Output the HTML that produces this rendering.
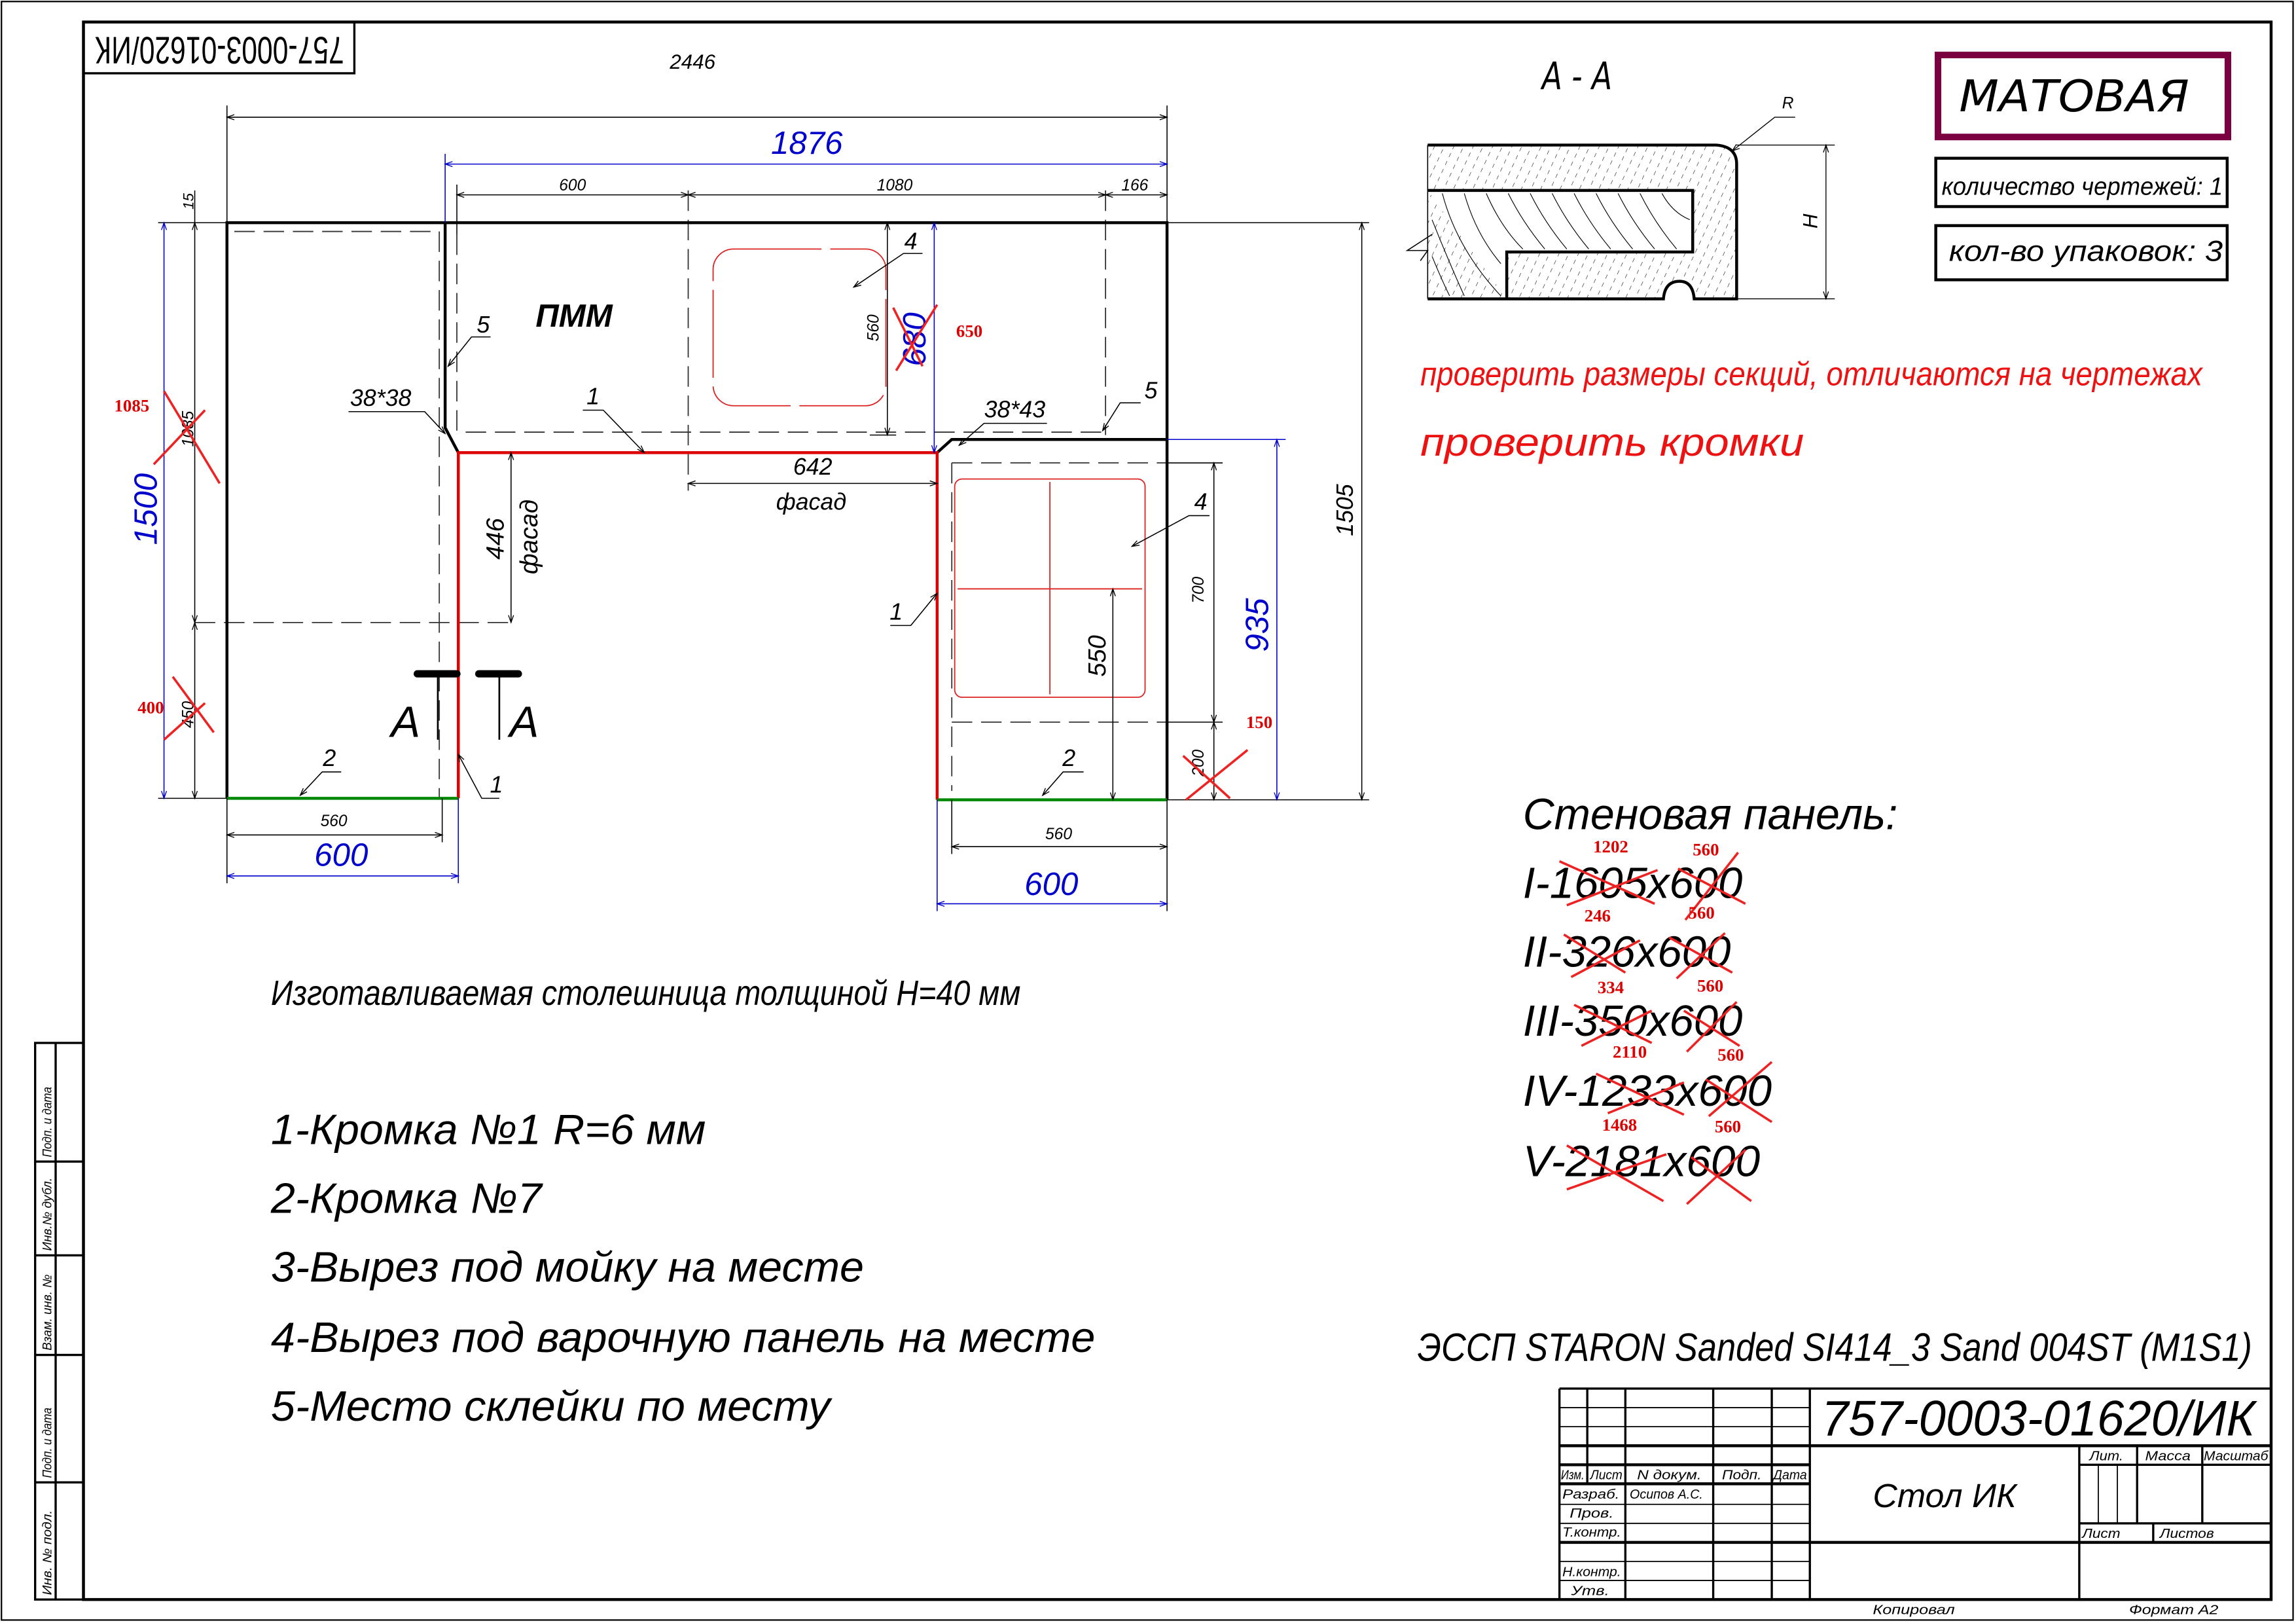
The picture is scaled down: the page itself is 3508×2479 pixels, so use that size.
<!DOCTYPE html>
<html><head><meta charset="utf-8"><style>
html,body{margin:0;padding:0;background:#fff;}
svg{display:block;}
text{font-family:"Liberation Sans","Noto Sans CJK SC",sans-serif;font-style:italic;}
text.s{font-family:"Liberation Serif",serif;font-style:normal;font-weight:bold;}
</style></head><body>
<svg width="3508" height="2479" viewBox="0 0 1568 1108" xmlns="http://www.w3.org/2000/svg">
<defs>
<marker id="a" viewBox="0 0 10 10" refX="10" refY="5" markerWidth="7" markerHeight="5" orient="auto-start-reverse" markerUnits="userSpaceOnUse"><path d="M0,1.5 L10,5 L0,8.5" fill="none" stroke="#000" stroke-width="1.2"/></marker>
<marker id="b" viewBox="0 0 10 10" refX="10" refY="5" markerWidth="7" markerHeight="5" orient="auto-start-reverse" markerUnits="userSpaceOnUse"><path d="M0,1.5 L10,5 L0,8.5" fill="none" stroke="#00c" stroke-width="1.2"/></marker>
<pattern id="h" width="6" height="6" patternUnits="userSpaceOnUse" patternTransform="rotate(25)"><line x1="0" y1="0" x2="0" y2="3" stroke="#000" stroke-width="0.5"/></pattern>
</defs>
<rect width="1568" height="1108" fill="#fff"/>
<rect x="1" y="1" width="1565" height="1105" fill="none" stroke="#000" stroke-width="1"/>
<rect x="57" y="15" width="1494" height="1077" fill="none" stroke="#000" stroke-width="2"/>
<rect x="57" y="15" width="185" height="35" fill="none" stroke="#000" stroke-width="1.5"/>
<text transform="translate(150,32) rotate(180)" x="0" y="0" text-anchor="middle" dominant-baseline="middle" font-size="26" textLength="170" lengthAdjust="spacingAndGlyphs" style="font-style:normal">757-0003-01620/ИК</text>
<g stroke="#000" stroke-width="1.5" fill="none">
<rect x="24" y="712" width="33" height="380"/>
<line x1="38" y1="712" x2="38" y2="1092"/>
<line x1="24" y1="793" x2="57" y2="793"/><line x1="24" y1="857" x2="57" y2="857"/><line x1="24" y1="925" x2="57" y2="925"/><line x1="24" y1="1012" x2="57" y2="1012"/>
</g>
<g font-size="8.5">
<text transform="translate(35,790) rotate(-90)" textLength="48" lengthAdjust="spacingAndGlyphs">Подп. и дата</text>
<text transform="translate(35,854) rotate(-90)" textLength="50" lengthAdjust="spacingAndGlyphs">Инв.№ дубл.</text>
<text transform="translate(35,922) rotate(-90)" textLength="52" lengthAdjust="spacingAndGlyphs">Взам. инв. №</text>
<text transform="translate(35,1009) rotate(-90)" textLength="48" lengthAdjust="spacingAndGlyphs">Подп. и дата</text>
<text transform="translate(35,1089) rotate(-90)" textLength="58" lengthAdjust="spacingAndGlyphs">Инв. № подл.</text>
</g>

<g stroke="#333" stroke-width="0.8" fill="none" stroke-dasharray="14,6">
<polyline points="160,158 300,158 300,545"/>
<line x1="133" y1="425" x2="352" y2="425"/>
<line x1="312" y1="160" x2="312" y2="295"/>
<line x1="318" y1="295" x2="755" y2="295"/>
<line x1="470" y1="130" x2="470" y2="335"/>
<line x1="755" y1="130" x2="755" y2="297"/>
<line x1="650" y1="316" x2="797" y2="316"/>
<line x1="650" y1="316" x2="650" y2="540"/>
<line x1="650" y1="493" x2="797" y2="493"/>
</g>
<rect x="487" y="170" width="118" height="107" rx="14" fill="none" stroke="#d22" stroke-width="0.8" stroke-dasharray="60,6"/>
<rect x="652" y="327" width="130" height="149" rx="5" fill="none" stroke="#d22" stroke-width="0.8"/>
<line x1="717" y1="329" x2="717" y2="474" stroke="#d22" stroke-width="0.8"/>
<line x1="654" y1="402" x2="780" y2="402" stroke="#d22" stroke-width="0.8"/>

<g stroke="#000" stroke-width="2" fill="none">
<polyline points="155,545 155,152 797,152 797,546"/>
<polyline points="304,152 304,292 313,309"/>
<polyline points="640,309 650,300 797,300"/>
</g>
<polyline points="313,545 313,309 640,309 640,546" stroke="#d00" stroke-width="2" fill="none"/>
<line x1="155" y1="545" x2="313" y2="545" stroke="#080" stroke-width="2"/>
<line x1="640" y1="546" x2="797" y2="546" stroke="#080" stroke-width="2"/>

<g stroke="#000" stroke-width="0.7" fill="none">
<line x1="155" y1="80" x2="797" y2="80" marker-start="url(#a)" marker-end="url(#a)"/>
<line x1="155" y1="72" x2="155" y2="152"/><line x1="797" y1="72" x2="797" y2="152"/>
<line x1="312" y1="133" x2="470" y2="133" marker-start="url(#a)" marker-end="url(#a)"/>
<line x1="470" y1="133" x2="755" y2="133" marker-start="url(#a)" marker-end="url(#a)"/>
<line x1="755" y1="133" x2="797" y2="133" marker-start="url(#a)" marker-end="url(#a)"/>
<line x1="312" y1="126" x2="312" y2="160"/>
<line x1="133" y1="152" x2="133" y2="425" marker-start="url(#a)" marker-end="url(#a)"/>
<line x1="133" y1="425" x2="133" y2="545" marker-start="url(#a)" marker-end="url(#a)"/>
<line x1="133" y1="130" x2="133" y2="152"/>
<line x1="108" y1="152" x2="155" y2="152"/><line x1="108" y1="545" x2="155" y2="545"/>
<line x1="349" y1="309" x2="349" y2="425" marker-start="url(#a)" marker-end="url(#a)"/>
<line x1="470" y1="330" x2="640" y2="330" marker-start="url(#a)" marker-end="url(#a)"/>
<line x1="606" y1="152" x2="606" y2="297" marker-start="url(#a)" marker-end="url(#a)"/>
<line x1="594" y1="297" x2="612" y2="297"/>
<line x1="797" y1="152" x2="935" y2="152"/><line x1="797" y1="546" x2="935" y2="546"/>
<line x1="797" y1="316" x2="835" y2="316"/><line x1="797" y1="493" x2="835" y2="493"/>
<line x1="930" y1="152" x2="930" y2="546" marker-start="url(#a)" marker-end="url(#a)"/>
<line x1="829" y1="316" x2="829" y2="493" marker-start="url(#a)" marker-end="url(#a)"/>
<line x1="829" y1="493" x2="829" y2="546" marker-start="url(#a)" marker-end="url(#a)"/>
<line x1="760" y1="402" x2="760" y2="546" marker-start="url(#a)" marker-end="url(#a)"/>
<line x1="155" y1="570" x2="302" y2="570" marker-start="url(#a)" marker-end="url(#a)"/>
<line x1="155" y1="545" x2="155" y2="603"/><line x1="302" y1="545" x2="302" y2="575"/>
<line x1="650" y1="578" x2="797" y2="578" marker-start="url(#a)" marker-end="url(#a)"/>
<line x1="650" y1="546" x2="650" y2="583"/><line x1="797" y1="546" x2="797" y2="622"/>
</g>
<g stroke="#00c" stroke-width="0.7" fill="none">
<line x1="304" y1="112" x2="797" y2="112" marker-start="url(#b)" marker-end="url(#b)"/>
<line x1="304" y1="105" x2="304" y2="152"/>
<line x1="112" y1="152" x2="112" y2="545" marker-start="url(#b)" marker-end="url(#b)"/>
<line x1="638" y1="152" x2="638" y2="309" marker-start="url(#b)" marker-end="url(#b)"/>
<line x1="872" y1="300" x2="872" y2="546" marker-start="url(#b)" marker-end="url(#b)"/>
<line x1="797" y1="300" x2="878" y2="300"/>
<line x1="155" y1="598" x2="313" y2="598" marker-start="url(#b)" marker-end="url(#b)"/>
<line x1="313" y1="545" x2="313" y2="603"/>
<line x1="640" y1="617" x2="797" y2="617" marker-start="url(#b)" marker-end="url(#b)"/>
<line x1="640" y1="546" x2="640" y2="622"/>
</g>
<g font-size="12">
<text x="473" y="47" text-anchor="middle" font-size="14">2446</text>
<text x="391" y="130" text-anchor="middle" font-size="11">600</text>
<text x="611" y="130" text-anchor="middle" font-size="11">1080</text>
<text x="775" y="130" text-anchor="middle" font-size="11">166</text>
<text transform="translate(132,143) rotate(-90)" font-size="10">15</text>
<text transform="translate(132,305) rotate(-90)" font-size="11">1085</text>
<text transform="translate(132,497) rotate(-90)" font-size="11">450</text>
<text transform="translate(600,233) rotate(-90)" font-size="11">560</text>
<text transform="translate(822,412) rotate(-90)" font-size="11">700</text>
<text transform="translate(822,530) rotate(-90)" font-size="11">200</text>
<text transform="translate(924,366) rotate(-90)" font-size="16">1505</text>
<text transform="translate(755,462) rotate(-90)" font-size="17">550</text>
<text transform="translate(344,382) rotate(-90)" font-size="17">446</text>
<text transform="translate(367,392) rotate(-90)" font-size="17">фасад</text>
<text x="555" y="324" text-anchor="middle" font-size="16">642</text>
<text x="554" y="348" text-anchor="middle" font-size="16">фасад</text>
<text x="228" y="564" text-anchor="middle" font-size="11">560</text>
<text x="723" y="573" text-anchor="middle" font-size="11">560</text>
</g>
<g fill="#00c" font-size="22">
<text x="551" y="105" text-anchor="middle">1876</text>
<text transform="translate(107,372) rotate(-90)">1500</text>
<text transform="translate(632,250) rotate(-90)">680</text>
<text transform="translate(866,445) rotate(-90)">935</text>
<text x="233" y="591" text-anchor="middle">600</text>
<text x="718" y="611" text-anchor="middle">600</text>
</g>
<g stroke="#e22" stroke-width="1.6">
<line x1="112" y1="267" x2="150" y2="330"/><line x1="105" y1="317" x2="140" y2="280"/>
<line x1="118" y1="462" x2="146" y2="500"/><line x1="112" y1="505" x2="140" y2="480"/>
<line x1="610" y1="210" x2="630" y2="250"/><line x1="612" y1="253" x2="640" y2="208"/>
<line x1="808" y1="516" x2="840" y2="545"/><line x1="810" y1="546" x2="852" y2="512"/>
</g>
<g fill="#d00" font-size="12">
<text class="s" x="90" y="281" text-anchor="middle">1085</text>
<text class="s" x="103" y="487" text-anchor="middle">400</text>
<text class="s" x="662" y="230" text-anchor="middle">650</text>
<text class="s" x="860" y="497" text-anchor="middle">150</text>
</g>

<g stroke="#000" stroke-width="0.7" fill="none">
<polyline points="630,173 617,173 583,196" marker-end="url(#a)"/>
<polyline points="335,230 322,230 306,250" marker-end="url(#a)"/>
<polyline points="238,281 290,281 304,296" marker-end="url(#a)"/>
<polyline points="398,280 412,280 440,309" marker-end="url(#a)"/>
<polyline points="715,289 672,289 655,304" marker-end="url(#a)"/>
<polyline points="779,275 765,275 753,294" marker-end="url(#a)"/>
<polyline points="826,352 812,352 773,373" marker-end="url(#a)"/>
<polyline points="608,427 622,427 640,405" marker-end="url(#a)"/>
<polyline points="233,527 220,527 205,543" marker-end="url(#a)"/>
<polyline points="740,527 726,527 712,543" marker-end="url(#a)"/>
<polyline points="341,545 329,545 313,515" marker-end="url(#a)"/>
</g>
<g font-size="16">
<text x="622" y="170" text-anchor="middle">4</text>
<text x="330" y="227" text-anchor="middle">5</text>
<text x="260" y="277" text-anchor="middle">38*38</text>
<text x="405" y="276" text-anchor="middle">1</text>
<text x="693" y="285" text-anchor="middle">38*43</text>
<text x="786" y="272" text-anchor="middle">5</text>
<text x="820" y="348" text-anchor="middle">4</text>
<text x="612" y="423" text-anchor="middle">1</text>
<text x="225" y="523" text-anchor="middle">2</text>
<text x="730" y="523" text-anchor="middle">2</text>
<text x="339" y="541" text-anchor="middle">1</text>
</g>
<text x="392" y="223" text-anchor="middle" font-size="22" font-weight="bold">ПММ</text>
<g stroke="#000">
<line x1="285" y1="460" x2="312" y2="460" stroke-width="5" stroke-linecap="round"/>
<line x1="327" y1="460" x2="354" y2="460" stroke-width="5" stroke-linecap="round"/>
<line x1="299" y1="460" x2="299" y2="505" stroke-width="1.2"/>
<line x1="341" y1="460" x2="341" y2="505" stroke-width="1.2"/>
</g>
<text x="277" y="503" text-anchor="middle" font-size="30">A</text>
<text x="358" y="503" text-anchor="middle" font-size="30">A</text>

<text x="1077" y="61" text-anchor="middle" font-size="26" textLength="48" lengthAdjust="spacingAndGlyphs" style="font-family:'DejaVu Sans','Liberation Sans',sans-serif;font-style:italic;font-weight:normal">A - A</text>
<path d="M975,99 L1172,99 Q1186,100 1186,112 L1186,204 L1157,204 Q1156,192 1147,192 Q1137,192 1136,204 L975,204 Z" fill="url(#h)" stroke="none"/>
<g stroke="#000" fill="none">
<path d="M975,99 L1172,99 Q1186,100 1186,112 L1186,204 L1157,204 Q1156,192 1147,192 Q1137,192 1136,204 L975,204" stroke-width="2"/>
<polyline points="975,130 1156,130 1156,172 1029,172 1029,204" stroke-width="2" fill="#fff"/>
<line x1="975" y1="99" x2="975" y2="204" stroke-width="0.7"/>
<polyline points="978,160 961,171 975,171 970,178" stroke-width="0.7"/>
<line x1="1186" y1="99" x2="1253" y2="99" stroke-width="0.6"/>
<line x1="1186" y1="204" x2="1253" y2="204" stroke-width="0.6"/>
<line x1="1247" y1="99" x2="1247" y2="204" stroke-width="0.6" marker-start="url(#a)" marker-end="url(#a)"/>
<polyline points="1226,80 1212,80 1183,103" stroke-width="0.6" marker-end="url(#a)"/>
</g>
<g stroke="#000" stroke-width="0.5" fill="none">
<path d="M985,132 Q995,170 1025,202 M1000,132 Q1008,160 1025,180 M1015,132 Q1025,155 1040,170 M1030,132 Q1040,152 1055,170 M1045,132 Q1055,152 1070,170 M1060,132 Q1070,152 1085,170 M1075,132 Q1085,152 1100,170 M1090,132 Q1100,152 1115,170 M1105,132 Q1115,152 1130,170 M1120,132 Q1130,152 1145,170 M1135,132 Q1142,145 1154,150 M978,150 Q990,180 1000,202 M978,175 Q985,192 990,202"/>
</g>
<text x="1221" y="74" text-anchor="middle" font-size="11">R</text>
<text transform="translate(1241,156) rotate(-90)" font-size="14">H</text>

<rect x="1323.5" y="37.5" width="198" height="56" fill="none" stroke="#7a0040" stroke-width="4.5"/>
<text x="1338" y="76" font-size="30" textLength="157" lengthAdjust="spacingAndGlyphs" style="font-family:'DejaVu Sans','Liberation Sans',sans-serif;font-style:italic;font-weight:normal">МАТОВАЯ</text>
<rect x="1322" y="108" width="199" height="33" fill="none" stroke="#000" stroke-width="2"/>
<text x="1326" y="133" font-size="17" textLength="192" lengthAdjust="spacingAndGlyphs">количество чертежей: 1</text>
<rect x="1322" y="154" width="199" height="37" fill="none" stroke="#000" stroke-width="2"/>
<text x="1331" y="178" font-size="20" textLength="187" lengthAdjust="spacingAndGlyphs">кол-во упаковок: 3</text>

<text x="970" y="263" font-size="23" fill="#e11" textLength="534" lengthAdjust="spacingAndGlyphs">проверить размеры секций, отличаются на чертежах</text>
<text x="970" y="311" font-size="27" fill="#e11" textLength="262" lengthAdjust="spacingAndGlyphs">проверить кромки</text>

<g font-size="30">
<text x="1040" y="566" textLength="256" lengthAdjust="spacingAndGlyphs">Стеновая панель:</text>
<text x="1040" y="613" textLength="150" lengthAdjust="spacingAndGlyphs">I-1605x600</text>
<text x="1040" y="660" textLength="142" lengthAdjust="spacingAndGlyphs">II-326x600</text>
<text x="1040" y="707" textLength="150" lengthAdjust="spacingAndGlyphs">III-350x600</text>
<text x="1040" y="755" textLength="170" lengthAdjust="spacingAndGlyphs">IV-1233x600</text>
<text x="1040" y="803" textLength="162" lengthAdjust="spacingAndGlyphs">V-2181x600</text>
</g>
<g stroke="#e22" stroke-width="1.6">
<line x1="1065" y1="588" x2="1130" y2="617"/><line x1="1070" y1="618" x2="1132" y2="594"/>
<line x1="1146" y1="593" x2="1192" y2="617"/><line x1="1151" y1="628" x2="1187" y2="582"/>
<line x1="1068" y1="638" x2="1110" y2="664"/><line x1="1073" y1="667" x2="1120" y2="642"/>
<line x1="1140" y1="640" x2="1183" y2="664"/><line x1="1145" y1="668" x2="1178" y2="637"/>
<line x1="1075" y1="686" x2="1128" y2="712"/><line x1="1080" y1="714" x2="1128" y2="690"/>
<line x1="1150" y1="690" x2="1188" y2="714"/><line x1="1152" y1="718" x2="1186" y2="684"/>
<line x1="1090" y1="733" x2="1150" y2="761"/><line x1="1098" y1="760" x2="1150" y2="739"/>
<line x1="1165" y1="737" x2="1210" y2="766"/><line x1="1167" y1="762" x2="1210" y2="725"/>
<line x1="1070" y1="782" x2="1136" y2="820"/><line x1="1070" y1="812" x2="1138" y2="788"/>
<line x1="1155" y1="790" x2="1196" y2="820"/><line x1="1152" y1="822" x2="1192" y2="785"/>
</g>
<g fill="#d00" font-size="12" text-anchor="middle">
<text class="s" x="1100" y="582">1202</text><text class="s" x="1165" y="584">560</text>
<text class="s" x="1091" y="629">246</text><text class="s" x="1162" y="627">560</text>
<text class="s" x="1100" y="678">334</text><text class="s" x="1168" y="677">560</text>
<text class="s" x="1113" y="722">2110</text><text class="s" x="1182" y="724">560</text>
<text class="s" x="1106" y="772">1468</text><text class="s" x="1180" y="773">560</text>
</g>

<text x="968" y="929" font-size="27" textLength="570" lengthAdjust="spacingAndGlyphs">ЭССП STARON Sanded SI414_3 Sand 004ST (M1S1)</text>

<text x="185" y="686" font-size="24" textLength="512" lengthAdjust="spacingAndGlyphs">Изготавливаемая столешница толщиной Н=40 мм</text>
<g font-size="29">
<text x="185" y="781" textLength="297" lengthAdjust="spacingAndGlyphs">1-Кромка №1 R=6 мм</text>
<text x="185" y="828" textLength="185" lengthAdjust="spacingAndGlyphs">2-Кромка №7</text>
<text x="185" y="875" textLength="405" lengthAdjust="spacingAndGlyphs">3-Вырез под мойку на месте</text>
<text x="185" y="923" textLength="563" lengthAdjust="spacingAndGlyphs">4-Вырез под варочную панель на месте</text>
<text x="185" y="970" textLength="382" lengthAdjust="spacingAndGlyphs">5-Место склейки по месту</text>
</g>

<g stroke="#000" stroke-width="1.5" fill="none">
<line x1="1065" y1="948" x2="1551" y2="948"/>
<line x1="1065" y1="948" x2="1065" y2="1092"/>
<line x1="1084" y1="948" x2="1084" y2="1013"/>
<line x1="1110" y1="948" x2="1110" y2="1092"/>
<line x1="1170" y1="948" x2="1170" y2="1092"/>
<line x1="1210" y1="948" x2="1210" y2="1092"/>
<line x1="1236" y1="948" x2="1236" y2="1092"/>
<line x1="1065" y1="961" x2="1236" y2="961" stroke-width="0.8"/>
<line x1="1065" y1="974" x2="1236" y2="974" stroke-width="0.8"/>
<line x1="1065" y1="987" x2="1551" y2="987" stroke-width="2"/>
<line x1="1065" y1="1000" x2="1236" y2="1000" stroke-width="2"/>
<line x1="1065" y1="1013" x2="1236" y2="1013" stroke-width="2"/>
<line x1="1065" y1="1027" x2="1236" y2="1027" stroke-width="0.8"/>
<line x1="1065" y1="1040" x2="1236" y2="1040" stroke-width="0.8"/>
<line x1="1065" y1="1053" x2="1551" y2="1053" stroke-width="2"/>
<line x1="1065" y1="1066" x2="1236" y2="1066" stroke-width="0.8"/>
<line x1="1065" y1="1079" x2="1236" y2="1079" stroke-width="0.8"/>
<line x1="1420" y1="987" x2="1420" y2="1092"/>
<line x1="1420" y1="1000" x2="1551" y2="1000"/>
<line x1="1420" y1="1040" x2="1551" y2="1040"/>
<line x1="1459.5" y1="987" x2="1459.5" y2="1040"/>
<line x1="1504" y1="987" x2="1504" y2="1040"/>
<line x1="1433" y1="1000" x2="1433" y2="1040" stroke-width="0.8"/>
<line x1="1446" y1="1000" x2="1446" y2="1040" stroke-width="0.8"/>
<line x1="1470.5" y1="1040" x2="1470.5" y2="1053"/>
</g>
<text x="1244" y="980" font-size="34" textLength="296" lengthAdjust="spacingAndGlyphs">757-0003-01620/ИК</text>
<text x="1328" y="1029" text-anchor="middle" font-size="23" textLength="98" lengthAdjust="spacingAndGlyphs">Стол ИК</text>
<g font-size="9">
<text x="1066" y="1010" textLength="16" lengthAdjust="spacingAndGlyphs">Изм.</text>
<text x="1086" y="1010" textLength="22" lengthAdjust="spacingAndGlyphs">Лист</text>
<text x="1118" y="1010" textLength="44" lengthAdjust="spacingAndGlyphs">N докум.</text>
<text x="1176" y="1010" textLength="27" lengthAdjust="spacingAndGlyphs">Подп.</text>
<text x="1211" y="1010" textLength="23" lengthAdjust="spacingAndGlyphs">Дата</text>
<text x="1067" y="1023" textLength="39" lengthAdjust="spacingAndGlyphs">Разраб.</text>
<text x="1113" y="1023" textLength="50" lengthAdjust="spacingAndGlyphs">Осипов А.С.</text>
<text x="1072" y="1036" textLength="30" lengthAdjust="spacingAndGlyphs">Пров.</text>
<text x="1067" y="1049" textLength="40" lengthAdjust="spacingAndGlyphs">Т.контр.</text>
<text x="1067" y="1076" textLength="40" lengthAdjust="spacingAndGlyphs">Н.контр.</text>
<text x="1073" y="1089" textLength="26" lengthAdjust="spacingAndGlyphs">Утв.</text>
<text x="1427" y="997" textLength="23" lengthAdjust="spacingAndGlyphs">Лит.</text>
<text x="1465" y="997" textLength="31" lengthAdjust="spacingAndGlyphs">Масса</text>
<text x="1505" y="997" textLength="44" lengthAdjust="spacingAndGlyphs">Масштаб</text>
<text x="1422" y="1050" textLength="26" lengthAdjust="spacingAndGlyphs">Лист</text>
<text x="1475" y="1050" textLength="37" lengthAdjust="spacingAndGlyphs">Листов</text>
<text x="1279" y="1102" textLength="56" lengthAdjust="spacingAndGlyphs">Копировал</text>
<text x="1454" y="1102" textLength="61" lengthAdjust="spacingAndGlyphs">Формат А2</text>
</g>
</svg>
</body></html>
